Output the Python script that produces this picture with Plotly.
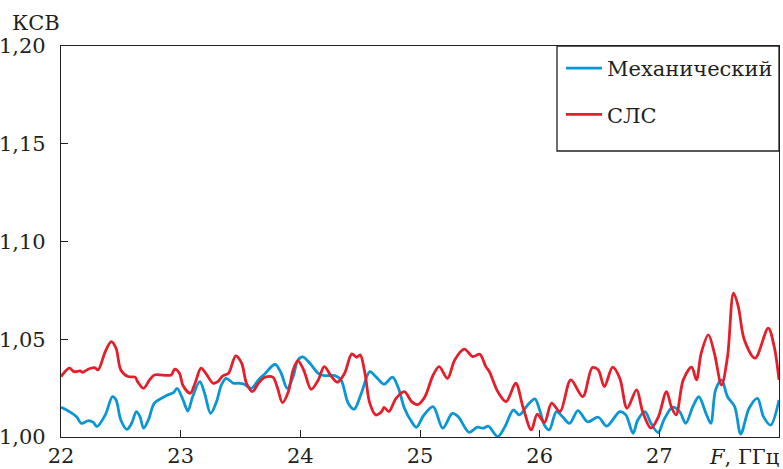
import plotly.graph_objects as go

# Frequency grid (GHz) and VSWR readings for the machined sample
freq_mech = [22.00, 22.07, 22.13, 22.17, 22.23, 22.27, 22.30, 22.37, 22.43, 22.46,
             22.50, 22.55, 22.59, 22.63, 22.66, 22.69, 22.73, 22.78, 22.84, 22.89,
             22.94, 22.97, 23.02, 23.06, 23.10, 23.16, 23.20, 23.25, 23.30, 23.34,
             23.38, 23.44, 23.49, 23.53, 23.59, 23.65, 23.70, 23.79, 23.84, 23.89,
             23.94, 23.98, 24.02, 24.08, 24.15, 24.20, 24.29, 24.34, 24.40, 24.45,
             24.51, 24.58, 24.63, 24.70, 24.77, 24.82, 24.87, 24.93, 24.97, 25.03,
             25.11, 25.19, 25.27, 25.32, 25.41, 25.48, 25.53, 25.57, 25.65, 25.71,
             25.78, 25.83, 25.90, 25.96, 26.00, 26.04, 26.08, 26.14, 26.19, 26.25,
             26.32, 26.40, 26.49, 26.56, 26.67, 26.72, 26.78, 26.82, 26.88, 26.93,
             26.99, 27.04, 27.11, 27.17, 27.22, 27.28, 27.33, 27.39, 27.43, 27.47,
             27.52, 27.57, 27.63, 27.68, 27.75, 27.82, 27.87, 27.93, 28.00]
vswr_mech = [1.0152, 1.0130, 1.0104, 1.0070, 1.0084, 1.0075, 1.0053, 1.0113, 1.0206, 1.0189,
             1.0087, 1.0039, 1.0070, 1.0130, 1.0104, 1.0045, 1.0087, 1.0173, 1.0198, 1.0215,
             1.0227, 1.0249, 1.0190, 1.0133, 1.0206, 1.0283, 1.0224, 1.0121, 1.0181, 1.0266,
             1.0300, 1.0275, 1.0275, 1.0270, 1.0249, 1.0292, 1.0321, 1.0372, 1.0326, 1.0249,
             1.0309, 1.0394, 1.0410, 1.0377, 1.0326, 1.0314, 1.0314, 1.0292, 1.0173, 1.0142,
             1.0224, 1.0334, 1.0309, 1.0270, 1.0306, 1.0249, 1.0147, 1.0078, 1.0050, 1.0110,
             1.0155, 1.0045, 1.0121, 1.0104, 1.0024, 1.0050, 1.0045, 1.0056, 1.0002, 1.0053,
             1.0138, 1.0113, 1.0164, 1.0195, 1.0138, 1.0060, 1.0036, 1.0130, 1.0104, 1.0070,
             1.0135, 1.0078, 1.0101, 1.0056, 1.0130, 1.0113, 1.0019, 1.0087, 1.0130, 1.0070,
             1.0023, 1.0090, 1.0152, 1.0130, 1.0070, 1.0155, 1.0206, 1.0121, 1.0070, 1.0241,
             1.0292, 1.0206, 1.0155, 1.0015, 1.0147, 1.0198, 1.0104, 1.0061, 1.0189]

# Frequency grid (GHz) and VSWR readings for the SLM-printed sample
freq_sls = [22.00, 22.07, 22.11, 22.16, 22.18, 22.23, 22.28, 22.31, 22.37, 22.42,
            22.46, 22.50, 22.56, 22.62, 22.64, 22.69, 22.74, 22.78, 22.92, 22.95,
            22.99, 23.02, 23.08, 23.12, 23.17, 23.21, 23.27, 23.31, 23.35, 23.40,
            23.46, 23.51, 23.55, 23.60, 23.65, 23.70, 23.77, 23.81, 23.85, 23.90,
            23.94, 23.98, 24.03, 24.09, 24.15, 24.20, 24.26, 24.31, 24.37, 24.43,
            24.47, 24.50, 24.54, 24.58, 24.63, 24.68, 24.70, 24.74, 24.80, 24.87,
            24.93, 24.98, 25.04, 25.11, 25.16, 25.23, 25.29, 25.37, 25.44, 25.50,
            25.55, 25.58, 25.65, 25.72, 25.80, 25.86, 25.93, 25.98, 26.04, 26.10,
            26.17, 26.26, 26.36, 26.44, 26.49, 26.54, 26.61, 26.67, 26.73, 26.81,
            26.86, 26.93, 26.99, 27.06, 27.10, 27.14, 27.20, 27.27, 27.31, 27.35,
            27.41, 27.46, 27.52, 27.57, 27.62, 27.66, 27.71, 27.80, 27.91, 27.96,
            28.00]
vswr_sls = [1.0309, 1.0352, 1.0334, 1.0338, 1.0331, 1.0348, 1.0355, 1.0343, 1.0437, 1.0488,
            1.0454, 1.0343, 1.0309, 1.0306, 1.0283, 1.0249, 1.0292, 1.0317, 1.0317, 1.0347,
            1.0326, 1.0262, 1.0224, 1.0275, 1.0352, 1.0326, 1.0275, 1.0283, 1.0312, 1.0326,
            1.0415, 1.0377, 1.0275, 1.0232, 1.0275, 1.0304, 1.0306, 1.0249, 1.0176, 1.0232,
            1.0343, 1.0391, 1.0340, 1.0244, 1.0292, 1.0360, 1.0309, 1.0280, 1.0326, 1.0425,
            1.0408, 1.0420, 1.0326, 1.0173, 1.0113, 1.0130, 1.0152, 1.0130, 1.0198, 1.0232,
            1.0181, 1.0166, 1.0205, 1.0317, 1.0360, 1.0300, 1.0394, 1.0449, 1.0411, 1.0423,
            1.0360, 1.0334, 1.0232, 1.0181, 1.0275, 1.0155, 1.0036, 1.0117, 1.0074, 1.0173,
            1.0130, 1.0292, 1.0206, 1.0355, 1.0343, 1.0258, 1.0357, 1.0300, 1.0147, 1.0241,
            1.0130, 1.0045, 1.0100, 1.0232, 1.0155, 1.0113, 1.0292, 1.0357, 1.0292, 1.0429,
            1.0522, 1.0429, 1.0266, 1.0411, 1.0736, 1.0667, 1.0497, 1.0403, 1.0557, 1.0462,
            1.0292]

x_ticks = [22, 23, 24, 25, 26, 27]
x_tick_text = ["22", "23", "24", "25", "26", "27"]
y_ticks = [1.00, 1.05, 1.10, 1.15, 1.20]
y_tick_text = ["1,00", "1,05", "1,10", "1,15", "1,20"]

FONT = "DejaVu Serif"
INK = "#231f20"
BLUE = "#0a96d4"
RED = "#e41e2a"

fig = go.Figure()
fig.add_trace(go.Scatter(
    x=freq_mech, y=vswr_mech, name="Механический", mode="lines",
    line=dict(color=BLUE, width=2.8, shape="spline", smoothing=0.9),
    legendgroup="mech",
))
fig.add_trace(go.Scatter(
    x=freq_sls, y=vswr_sls, name="СЛС", mode="lines",
    line=dict(color=RED, width=2.8, shape="spline", smoothing=0.9),
    legendgroup="sls",
))

axis_common = dict(
    showline=True, linecolor=INK, linewidth=1.3, mirror=True,
    ticks="inside", ticklen=7, tickwidth=1.2, tickcolor=INK,
    showgrid=False, zeroline=False, automargin=False,
    tickfont=dict(family=FONT, size=21, color=INK),
)

fig.update_xaxes(range=[22, 28], tickvals=x_ticks, ticktext=x_tick_text,
                 ticklabelstandoff=0, **axis_common)
fig.update_yaxes(range=[1.0, 1.2], tickvals=y_ticks, ticktext=y_tick_text,
                 ticklabelstandoff=10, **axis_common)

# Framed legend panel in the upper-right corner of the plot
fig.add_shape(type="rect", xref="paper", yref="paper",
              x0=0.6908, x1=1.0, y0=0.7315, y1=1.0,
              line=dict(color=INK, width=1.3), fillcolor="white", layer="below")

fig.update_layout(
    width=783, height=469,
    margin=dict(l=61, r=4, t=46, b=32, autoexpand=False),
    paper_bgcolor="white", plot_bgcolor="white",
    font=dict(family=FONT, size=21, color=INK),
    showlegend=True,
    legend=dict(
        x=0.6964, y=0.995, xanchor="left", yanchor="top",
        bgcolor="rgba(0,0,0,0)", borderwidth=0,
        font=dict(family=FONT, size=21, color=INK),
        tracegroupgap=16, itemwidth=36,
    ),
    annotations=[
        dict(text="КСВ", xref="paper", yref="paper", x=-0.0355, y=1.06,
             xanchor="center", yanchor="middle", showarrow=False,
             font=dict(family=FONT, size=21, color=INK)),
        dict(text="<i>F</i>, ГГц", xref="paper", yref="paper", x=1.003, y=-0.051,
             xanchor="right", yanchor="middle", showarrow=False,
             font=dict(family=FONT, size=21, color=INK)),
    ],
)

fig.write_html("out.html")
